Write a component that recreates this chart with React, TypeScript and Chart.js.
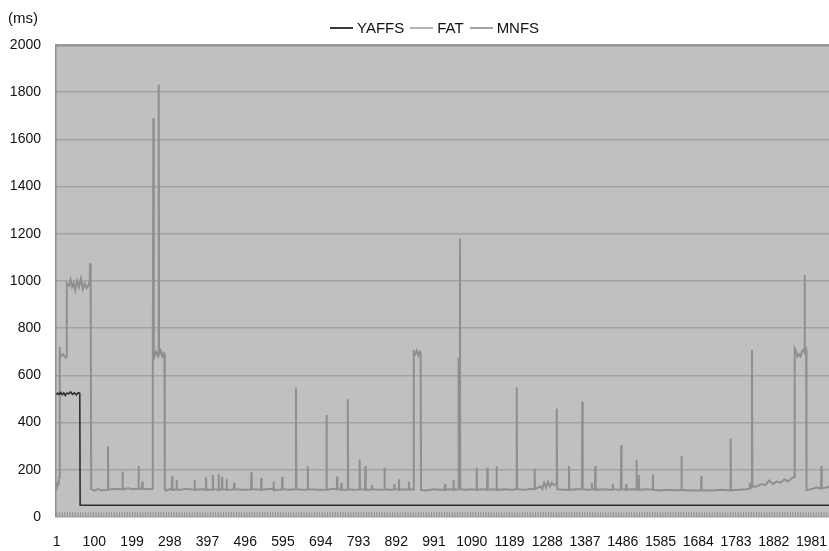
import React, { useEffect, useRef } from "react";
import { Chart, registerables } from "chart.js";

Chart.register(...registerables);

// ---- data (x = request index, y = latency in ms) ----
const seriesNames = ["YAFFS", "FAT", "MNFS"];
const seriesColors = ["#2e2e2e", "#8f8f8f", "#8a8a8a"];
const legendColors = ["#3a3a3a", "#b4b4b4", "#a2a2a2"];

const xTickValues = [1, 100, 199, 298, 397, 496, 595, 694, 793, 892, 991, 1090, 1189, 1288, 1387, 1486, 1585, 1684, 1783, 1882, 1981];
const yTickValues = [0, 200, 400, 600, 800, 1000, 1200, 1400, 1600, 1800, 2000];

const yaffsPoints: [number, number][] = [
  [1, 518], [4, 525], [8, 520], [12, 528], [16, 518], [20, 526], [24, 515], [28, 525], [33, 522],
  [38, 530], [43, 520], [48, 526], [53, 518], [58, 527], [62, 524], [63, 50], [2027, 50],
];

const fatPoints: [number, number][] = [
  [1, 150], [3, 128], [5, 140], [7, 165], [8, 170], [9, 720], [10, 705], [11, 690], [12, 680], [18, 690], [25, 675], [27, 680],
  [28, 990], [34, 980], [38, 1005], [42, 975], [46, 990], [50, 960], [55, 1000], [60, 975], [65, 1010],
  [70, 965], [75, 990], [80, 970], [86, 985], [88, 1000], [89, 1075], [90, 980], [91, 980], [92, 118],
  [100, 112], [110, 118], [120, 113], [135, 115], [136, 300], [137, 115], [150, 120], [160, 118],
  [173, 120], [174, 192], [175, 118], [190, 122], [200, 118], [215, 120], [216, 216], [217, 122],
  [225, 118], [226, 150], [227, 120], [240, 118], [252, 120], [253, 700], [254, 690], [255, 1690],
  [256, 700], [258, 680], [262, 700], [266, 685], [268, 700], [269, 1833], [270, 690], [274, 705],
  [278, 680], [282, 695], [284, 690], [285, 118],
  [288, 112], [300, 118], [303, 116], [304, 173], [305, 115], [315, 117], [316, 157], [317, 118],
  [325, 115], [340, 120], [362, 116], [363, 157], [364, 115], [380, 118], [392, 117], [393, 168],
  [394, 115], [410, 117], [411, 178], [412, 118], [425, 116], [426, 181], [427, 115], [434, 117],
  [435, 170], [436, 118], [446, 116], [447, 160], [448, 115], [466, 117], [467, 145], [468, 118],
  [490, 115], [511, 116], [512, 190], [513, 118], [537, 116], [538, 165], [539, 115], [560, 120],
  [569, 118], [570, 150], [571, 115], [592, 116], [593, 170], [594, 118], [610, 115], [628, 118],
  [629, 549], [630, 118], [645, 115], [659, 116], [660, 216], [661, 118], [685, 115], [708, 115],
  [709, 432], [710, 115], [725, 120], [736, 117], [737, 171], [738, 118], [747, 116], [748, 144],
  [749, 115], [764, 115], [765, 499], [766, 118], [780, 115], [795, 117], [796, 244], [797, 118],
  [810, 116], [811, 216], [812, 115], [827, 117], [828, 136], [829, 118], [845, 115], [860, 116],
  [861, 210], [862, 118], [875, 115], [886, 116], [887, 140], [888, 118], [898, 117], [899, 160],
  [900, 115], [915, 118], [924, 116], [925, 150], [926, 118], [937, 115], [938, 700],
  [942, 690], [946, 705], [950, 685], [954, 700], [956, 695], [957, 115], [970, 112], [990, 118],
  [1005, 115], [1019, 116], [1020, 140], [1021, 115], [1035, 118], [1041, 116], [1042, 157],
  [1043, 115], [1054, 118], [1055, 675], [1056, 118], [1058, 118], [1059, 1180], [1060, 118],
  [1075, 115], [1090, 118], [1102, 116], [1103, 210], [1104, 115], [1120, 118], [1130, 116],
  [1131, 210], [1132, 115], [1145, 118], [1154, 116], [1155, 215], [1156, 115], [1180, 118],
  [1195, 115], [1207, 118], [1208, 550], [1209, 118], [1230, 115], [1245, 120], [1254, 118],
  [1255, 205], [1256, 118], [1270, 130], [1275, 118], [1280, 145], [1285, 125], [1290, 150],
  [1295, 130], [1300, 145], [1305, 135], [1312, 140], [1313, 460], [1314, 118], [1330, 115],
  [1344, 116], [1345, 216], [1346, 115], [1365, 118], [1379, 118], [1380, 489], [1381, 118],
  [1395, 115], [1404, 117], [1405, 145], [1406, 118], [1413, 117], [1414, 216], [1415, 115],
  [1435, 118], [1450, 115], [1459, 116], [1460, 140], [1461, 118], [1475, 115], [1481, 116],
  [1482, 305], [1483, 118], [1494, 116], [1495, 140], [1496, 115], [1510, 118], [1521, 117],
  [1522, 242], [1523, 118], [1527, 116], [1528, 178], [1529, 115], [1545, 118], [1564, 116],
  [1565, 181], [1566, 115], [1585, 112], [1600, 115], [1620, 113], [1639, 113], [1640, 260],
  [1641, 115], [1660, 112], [1691, 112], [1692, 174], [1693, 113], [1720, 112], [1745, 115],
  [1768, 113], [1769, 333], [1770, 113], [1790, 115], [1810, 118], [1818, 120], [1819, 145],
  [1820, 125], [1824, 125], [1825, 708], [1826, 130], [1835, 128], [1850, 140], [1860, 135],
  [1870, 155], [1880, 140], [1890, 150], [1900, 145], [1910, 160], [1920, 150], [1930, 165],
  [1936, 170], [1937, 715], [1940, 705], [1944, 680], [1948, 690], [1952, 680], [1956, 700],
  [1960, 710], [1962, 700], [1963, 1025], [1964, 700], [1967, 710], [1968, 114], [1980, 118],
  [1995, 125], [2006, 120], [2007, 216], [2008, 122], [2020, 125], [2027, 128],
];

const mnfsPoints: [number, number][] = [
  [1, 12], [500, 12], [1000, 12], [1500, 12], [2027, 12],
];

const FONT = "'Liberation Sans', Arial, sans-serif";

const toXY = (pts: [number, number][]) => pts.map(([x, y]) => ({ x, y }));

const plotBg = {
  id: "plotBg",
  beforeDraw(chart: any) {
    const { ctx, chartArea: a } = chart;
    ctx.save();
    ctx.fillStyle = "#c0c0c0";
    ctx.fillRect(a.left, a.top, a.right - a.left, a.bottom - a.top);
    ctx.restore();
  },
  beforeDatasetsDraw(chart: any) {
    const { ctx, chartArea: a } = chart;
    ctx.save();
    ctx.strokeStyle = "#8e8e8e";
    ctx.lineWidth = 1.5;
    ctx.beginPath();
    ctx.moveTo(a.left + 0.75, a.bottom);
    ctx.lineTo(a.left + 0.75, a.top + 0.75);
    ctx.lineTo(a.right, a.top + 0.75);
    ctx.stroke();
    ctx.restore();
  },
};

export default function App() {
  const ref = useRef<HTMLCanvasElement | null>(null);

  useEffect(() => {
    document.body.style.margin = "0";
    if (!ref.current) return;
    const chart = new Chart(ref.current, {
      type: "line",
      data: {
        datasets: [
          {
            label: seriesNames[0],
            data: toXY(yaffsPoints),
            borderColor: seriesColors[0],
            borderWidth: 1.6,
            pointRadius: 0,
          },
          {
            label: seriesNames[1],
            data: toXY(fatPoints),
            borderColor: seriesColors[1],
            borderWidth: 2,
            pointRadius: 0,
          },
          {
            label: seriesNames[2],
            data: toXY(mnfsPoints),
            borderColor: seriesColors[2],
            borderWidth: 4,
            borderDash: [1, 1.6],
            borderCapStyle: "butt",
            pointRadius: 0,
          },
        ],
      },
      options: {
        responsive: false,
        animation: false,
        events: [],
        layout: { padding: { top: 45, left: 0, right: 0, bottom: 0 } },
        plugins: { legend: { display: false }, tooltip: { enabled: false } },
        scales: {
          x: {
            type: "linear",
            min: -3,
            max: 2027,
            grid: { display: false, drawTicks: false },
            border: { display: false },
            afterBuildTicks: (scale: any) => {
              scale.ticks = xTickValues.map((v) => ({ value: v }));
            },
            afterFit: (scale: any) => {
              scale.height = 34;
              scale.paddingLeft = 0;
              scale.paddingRight = 0;
            },
            ticks: {
              autoSkip: false,
              maxRotation: 0,
              minRotation: 0,
              padding: 17,
              color: "#111",
              font: { family: FONT, size: 14 },
              callback: (v: any) => String(v),
            },
          },
          y: {
            min: 0,
            max: 2000,
            afterBuildTicks: (scale: any) => {
              scale.ticks = yTickValues.map((v) => ({ value: v }));
            },
            afterFit: (scale: any) => {
              scale.width = 55;
              scale.paddingTop = 0;
              scale.paddingBottom = 0;
            },
            grid: { color: "#a2a2a2", lineWidth: 1.5, drawTicks: false },
            border: { display: false },
            ticks: {
              padding: 14,
              color: "#111",
              font: { family: FONT, size: 14 },
              callback: (v: any) => String(v),
            },
          },
        },
      },
      plugins: [plotBg],
    });
    return () => chart.destroy();
  }, []);

  const legendItem = (i: number) => (
    <div key={seriesNames[i]} style={{ display: "flex", alignItems: "center", marginRight: 6 }}>
      <span
        style={{
          display: "inline-block",
          width: 23,
          height: 2,
          background: legendColors[i],
          marginRight: 4,
        }}
      />
      <span>{seriesNames[i]}</span>
    </div>
  );

  return (
    <div style={{ position: "relative", width: 829, height: 551, background: "#fff" }}>
      <canvas ref={ref} width={829} height={551} style={{ display: "block" }} />
      <div
        style={{
          position: "absolute",
          left: 8,
          top: 9,
          fontFamily: FONT,
          fontSize: 15,
          color: "#111",
        }}
      >
        (ms)
      </div>
      <div
        style={{
          position: "absolute",
          left: 330,
          top: 19,
          display: "flex",
          alignItems: "center",
          fontFamily: FONT,
          fontSize: 15,
          color: "#111",
        }}
      >
        {[0, 1, 2].map(legendItem)}
      </div>
    </div>
  );
}
